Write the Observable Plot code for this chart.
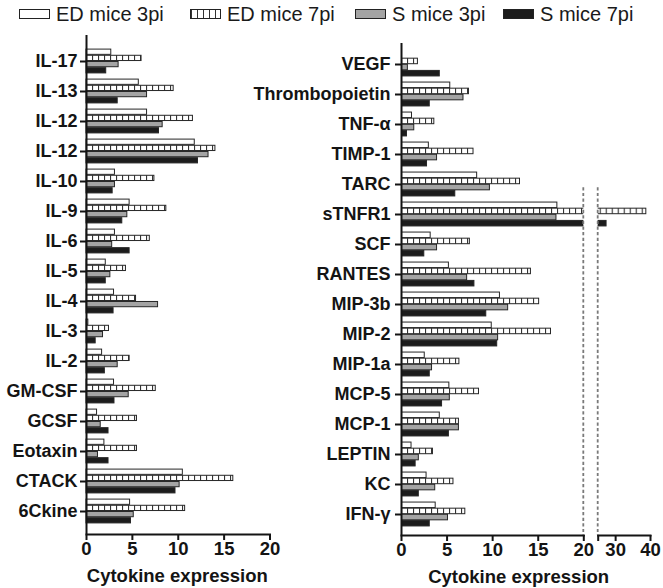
<!DOCTYPE html>
<html><head><meta charset="utf-8">
<script src="https://cdn.jsdelivr.net/npm/d3@7"></script>
<script src="https://cdn.jsdelivr.net/npm/@observablehq/plot@0.6"></script>
<style>
body{margin:0;background:#fff;}
#root{position:relative;width:663px;height:588px;font-family:"Liberation Sans",Arial,Helvetica,sans-serif;overflow:hidden;background:#fff}
.leg{position:absolute;top:4px;height:20px;display:flex;align-items:center;font-size:20px;color:#1a1a1a;white-space:nowrap}
.sw{display:inline-block;width:31px;height:10px;box-sizing:border-box;border:1px solid #222;margin-right:6px}
</style></head>
<body><div id="root"></div>
<script>
// ---- data ----
const seriesNames = ["ED mice 3pi", "ED mice 7pi", "S mice 3pi", "S mice 7pi"];
const leftCats = ["IL-17","IL-13","IL-12","IL-12","IL-10","IL-9","IL-6","IL-5","IL-4","IL-3","IL-2","GM-CSF","GCSF","Eotaxin","CTACK","6Ckine"];
const leftED3 = [2.7, 5.7, 6.6, 11.8, 3.1, 4.7, 3.1, 2.1, 3.0, 0.2, 1.7, 3.0, 1.15, 1.95, 10.5, 4.75];
const leftED7 = [6.0, 9.5, 11.6, 14.05, 7.4, 8.7, 6.9, 4.3, 5.4, 2.45, 4.7, 7.55, 5.5, 5.5, 16.0, 10.75];
const leftS3  = [3.5, 6.6, 8.3, 13.3, 3.1, 4.45, 2.8, 2.6, 7.8, 1.8, 3.4, 4.6, 1.55, 1.25, 10.15, 5.15];
const leftS7  = [2.15, 3.4, 7.9, 12.15, 2.85, 3.9, 4.7, 2.1, 2.95, 1.0, 2.0, 3.05, 2.4, 2.4, 9.7, 4.85];
const rightCats = ["VEGF","Thrombopoietin","TNF-α","TIMP-1","TARC","sTNFR1","SCF","RANTES","MIP-3b","MIP-2","MIP-1a","MCP-5","MCP-1","LEPTIN","KC","IFN-γ"];
const rightED3 = [0, 5.35, 1.15, 3.0, 8.3, 17.1, 3.2, 5.2, 10.8, 9.9, 2.55, 5.25, 4.2, 1.1, 2.75, 3.75];
const rightED7 = [1.8, 7.4, 3.6, 7.9, 13.0, 38.8, 7.5, 14.2, 15.1, 16.4, 6.35, 8.5, 6.3, 3.45, 5.7, 7.0];
const rightS3  = [0.7, 6.8, 1.4, 3.9, 9.7, 17.0, 3.9, 7.2, 11.7, 10.6, 3.35, 5.3, 6.3, 1.9, 3.7, 5.1];
const rightS7  = [4.2, 3.1, 0.6, 2.8, 5.9, 27.4, 2.5, 8.0, 9.3, 10.5, 3.1, 4.45, 5.2, 1.55, 1.9, 3.1];
const ticksLow = [0, 5, 10, 15, 20];
const ticksHigh = [25, 30, 40];
const axisTitle = "Cytokine expression";

// ---- helpers ----
const root = document.getElementById("root");
const FONT = '"Liberation Sans", Arial, Helvetica, sans-serif';
const INK = "#141414";
const fills = ["#ffffff", null, "#a4a4a4", "#1c1c1c"];

function rowsFor(arrs) {
  return arrs.flatMap((arr, k) => arr.map((v, i) => ({i, k, v})));
}
function patternDefs(id, x0) {
  return () => {
    const d = d3.create("svg:defs");
    const p = d.append("pattern").attr("id", id).attr("patternUnits", "userSpaceOnUse")
      .attr("width", 6).attr("height", 20).attr("x", x0);
    p.append("rect").attr("width", 6).attr("height", 20).attr("fill", "#fff");
    p.append("rect").attr("width", 1.1).attr("height", 20).attr("fill", "#333");
    return d.node();
  };
}
function barMarks(rows, step, patId, clip) {
  const h = step * 0.2, pad = (step - 4 * h) / 2;
  return seriesNames.map((s, k) => Plot.barX(rows.filter(r => r.k === k), {
    x: "v", y: "i",
    fill: k === 1 ? `url(#${patId})` : fills[k],
    stroke: "#262626", strokeWidth: 1,
    insetTop: pad + k * h, insetBottom: step - pad - (k + 1) * h,
    clip
  }));
}
function breakRule(xv, fromIdx) {
  return (index, scales, values, dims) => {
    const step = scales.y(fromIdx + 1) - scales.y(fromIdx);
    const y0 = scales.y(fromIdx) + step * 0.61;
    const line = d3.create("svg:line")
      .attr("x1", scales.x(xv)).attr("x2", scales.x(xv))
      .attr("y1", y0).attr("y2", dims.height - dims.marginBottom)
      .attr("stroke", "#7a7a7a").attr("stroke-width", 1.8).attr("stroke-dasharray", "3.2,2.4");
    return line.node();
  };
}
function place(svg, left) {
  svg.style.position = "absolute";
  svg.style.left = left + "px";
  svg.style.top = "0px";
  root.appendChild(svg);
}
const baseStyle = {background: "transparent", overflow: "visible", fontFamily: FONT, fontWeight: "bold", color: INK};

// ---- left panel ----
const leftRows = rowsFor([leftED3, leftED7, leftS3, leftS7]);
const leftStep = (533.5 - 38.5) / leftCats.length;
const left = Plot.plot({
  width: 300, height: 588,
  marginLeft: 86, marginRight: 30.5, marginTop: 35, marginBottom: 54,
  style: baseStyle,
  x: {domain: [0, 20]},
  y: {domain: d3.range(leftCats.length), range: [38.5, 533.5], padding: 0},
  marks: [
    patternDefs("hatchL", 86),
    ...barMarks(leftRows, leftStep, "hatchL", false),
    Plot.ruleX([0], {stroke: INK, strokeWidth: 2}),
    Plot.frame({anchor: "bottom", stroke: INK, strokeWidth: 2}),
    Plot.axisY({tickFormat: i => leftCats[i], fontSize: 18, tickSize: 6, tickPadding: 3, strokeWidth: 2, stroke: INK, label: null}),
    Plot.axisX({ticks: ticksLow, tickSize: 6, tickPadding: 1, fontSize: 18.5, strokeWidth: 2, stroke: INK, label: null}),
    Plot.text([axisTitle], {frameAnchor: "bottom", dy: 47, dx: -1, lineAnchor: "bottom", fontSize: 18.5, fontWeight: "bold", fill: INK})
  ]
});
place(left, 0);

// ---- right panel, low segment ----
const rightRows = rowsFor([rightED3, rightED7, rightS3, rightS7]);
const rTop = 44, rBot = 533.3;
const rightStep = (rBot - rTop) / rightCats.length;
const right1 = Plot.plot({
  width: 300, height: 588,
  marginLeft: 101, marginRight: 16.7, marginTop: 43, marginBottom: 53,
  style: baseStyle,
  x: {domain: [0, 20]},
  y: {domain: d3.range(rightCats.length), range: [rTop, rBot], padding: 0},
  marks: [
    patternDefs("hatchR1", 401),
    ...barMarks(rightRows, rightStep, "hatchR1", true),
    breakRule(20, rightCats.indexOf("TARC")),
    Plot.ruleX([0], {stroke: INK, strokeWidth: 2}),
    Plot.frame({anchor: "bottom", stroke: INK, strokeWidth: 2}),
    Plot.axisY({tickFormat: i => rightCats[i], fontSize: 18, tickSize: 6, tickPadding: 5, strokeWidth: 2, stroke: INK, label: null}),
    Plot.axisX({ticks: ticksLow, tickSize: 6, tickPadding: 1, fontSize: 18.5, strokeWidth: 2, stroke: INK, label: null}),
    Plot.text([axisTitle], {frameAnchor: "bottom", dy: 47, dx: 26, lineAnchor: "bottom", fontSize: 18.5, fontWeight: "bold", fill: INK})
  ]
});
place(right1, 300);

// ---- right panel, high segment ----
const right2 = Plot.plot({
  width: 73, height: 588,
  marginLeft: 7.7, marginRight: 13, marginTop: 43, marginBottom: 53,
  style: baseStyle,
  x: {domain: [25, 40]},
  y: {domain: d3.range(rightCats.length), range: [rTop, rBot], padding: 0, axis: null},
  marks: [
    patternDefs("hatchR2", 597.7),
    ...barMarks(rightRows, rightStep, "hatchR2", true),
    breakRule(25, rightCats.indexOf("TARC")),
    Plot.frame({anchor: "bottom", stroke: INK, strokeWidth: 2}),
    Plot.axisX({ticks: ticksHigh, tickFormat: d => d === 25 ? "" : String(d), tickSize: 6, tickPadding: 1, fontSize: 18.5, strokeWidth: 2, stroke: INK, label: null})
  ]
});
place(right2, 590);

// ---- legend ----
const legLefts = [19, 190, 355, 503];
const swatchBg = ["#ffffff", "repeating-linear-gradient(to right, #333 0 1px, #fff 1px 6px)", "#a4a4a4", "#1c1c1c"];
seriesNames.forEach((name, k) => {
  const item = document.createElement("div");
  item.className = "leg";
  item.style.left = legLefts[k] + "px";
  const sw = document.createElement("span");
  sw.className = "sw";
  sw.style.background = swatchBg[k];
  item.appendChild(sw);
  item.appendChild(document.createTextNode(name));
  root.appendChild(item);
});
</script>
</body></html>
